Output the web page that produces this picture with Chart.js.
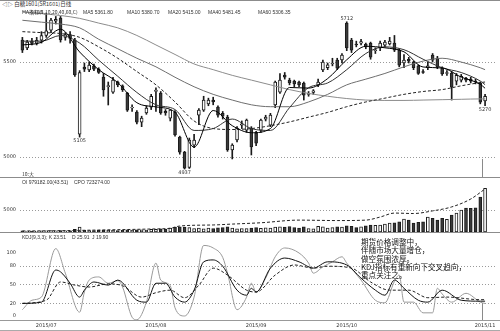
<!DOCTYPE html>
<html>
<head>
<meta charset="utf-8">
<title>白糖1601 日线</title>
<script src="https://cdn.jsdelivr.net/npm/chart.js@4.4.1/dist/chart.umd.min.js"></script>
<style>
  body { margin: 0; background: #fff; }
  #wrap { position: relative; width: 500px; height: 331px; overflow: hidden; font-family: "Liberation Sans", sans-serif; color: #333; }
  canvas { position: absolute; left: 0; }
  .txt { position: absolute; white-space: nowrap; font-size: 5px; line-height: 6px; }
  .rule { position: absolute; left: 0; width: 500px; height: 1px; background: #8c8c8c; }
  .note { position: absolute; left: 361px; top: 238px; font-family: "Noto Sans CJK SC", sans-serif; font-size: 7.6px; line-height: 8.3px; color: #111; white-space: nowrap; }
</style>
</head>
<body>
<div id="wrap">
  <div class="rule" style="top:0"></div>
  <div class="txt" style="left:2px;top:1px;font-size:5.5px;font-family:'Noto Sans CJK SC',sans-serif">◁▷ 白糖1601(SR1601)日线</div>

  <canvas id="priceChart" width="500" height="167" style="top:10px"></canvas>
  <div class="txt" style="left:22px;top:9px;font-family:'Noto Sans CJK SC',sans-serif">MA指标(5,10,20,40,60,C)</div>
  <div class="txt" style="left:83px;top:9px">MA5 5361.80</div>
  <div class="txt" style="left:127px;top:9px">MA10 5380.70</div>
  <div class="txt" style="left:168px;top:9px">MA20 5415.00</div>
  <div class="txt" style="left:208px;top:9px">MA40 5481.45</div>
  <div class="txt" style="left:258px;top:9px">MA60 5306.35</div>
  <div class="txt" style="left:22px;top:171px;font-family:'Noto Sans CJK SC',sans-serif">10:大</div>

  <div class="rule" style="top:177px"></div>
  <canvas id="volChart" width="500" height="55" style="top:177px"></canvas>
  <div class="txt" style="left:22px;top:179px">OI 979182.00(43.51)</div>
  <div class="txt" style="left:74px;top:179px">CPO 723274.00</div>

  <div class="rule" style="top:232px"></div>
  <canvas id="kdjChart" width="500" height="99" style="top:232px"></canvas>
  <div class="txt" style="left:22px;top:234px">KDJ(9,3,3); K 23.51</div>
  <div class="txt" style="left:72px;top:234px">D 25.91</div>
  <div class="txt" style="left:92px;top:234px">J 19.90</div>
  <div class="rule" style="top:320px;background:#999"></div>
  <div class="rule" style="top:330px;background:#aaa"></div>

  <div class="note">期货价格调整中，<br>伴随市场大量增仓，<br>做空氛围浓厚。<br>KDJ指标有重新向下交叉趋向，<br>重点关注之。</div>
</div>

<script>
// K线数据（98个交易日，索引0..97）
const slotCount = 100;
const opens = [5616,5575,5610,5600,5615,5640,5668,5715,5731,5630,5645,5616,5120,5474,5458,5480,5462,5421,5370,5342,
  5395,5375,5337,5258,5237,5184,5232,5262,5345,5337,5240,5205,5237,5105,5026,4945,5063,5221,5247,5280,
  5300,5263,5230,5210,5037,5090,5168,5142,5153,5126,5142,5200,5168,5274,5342,5432,5405,5400,5395,5389,
  5330,5340,5379,5458,5470,5490,5510,5511,5705,5616,5595,5600,5595,5600,5560,5575,5589,5595,5600,5563,
  5495,5515,5500,5480,5450,5470,5537,5521,5468,5440,5442,5400,5405,5415,5410,5400,5389,5295];
const highs = [5630,5615,5625,5630,5660,5758,5730,5740,5740,5655,5660,5625,5455,5495,5500,5490,5470,5440,5395,5420,
  5400,5380,5340,5275,5245,5215,5270,5330,5365,5345,5250,5250,5245,5110,5030,5100,5120,5255,5320,5310,
  5315,5270,5240,5220,5070,5160,5190,5200,5160,5135,5200,5220,5230,5400,5440,5445,5415,5405,5400,5395,
  5345,5355,5410,5510,5495,5520,5520,5545,5712,5625,5610,5620,5600,5605,5575,5610,5615,5630,5640,5570,
  5540,5525,5505,5485,5460,5500,5545,5530,5475,5455,5450,5440,5435,5420,5420,5410,5395,5330];
const lows = [5550,5565,5590,5590,5600,5630,5655,5700,5605,5615,5600,5425,5105,5450,5450,5455,5440,5320,5274,5335,
  5370,5345,5240,5240,5175,5160,5225,5250,5240,5225,5220,5190,5110,5015,4937,4940,5050,5170,5240,5270,
  5275,5210,5200,5030,4990,5080,5150,5130,5011,5060,5130,5190,5160,5260,5335,5410,5380,5370,5370,5300,
  5320,5330,5370,5450,5460,5480,5460,5495,5560,5550,5580,5590,5570,5515,5545,5560,5580,5590,5555,5475,
  5470,5495,5460,5435,5440,5460,5500,5465,5430,5430,5300,5380,5395,5395,5390,5385,5280,5270];
const closes = [5563,5605,5598,5615,5640,5665,5721,5725,5616,5645,5625,5432,5445,5462,5484,5462,5445,5353,5376,5405,
  5380,5355,5247,5262,5184,5205,5258,5320,5352,5232,5232,5247,5116,5026,4942,5089,5089,5247,5300,5300,
  5290,5221,5215,5037,5063,5153,5175,5195,5053,5073,5195,5210,5221,5395,5405,5421,5390,5385,5380,5326,
  5335,5348,5395,5500,5485,5495,5468,5537,5574,5563,5590,5608,5580,5526,5565,5600,5605,5610,5563,5484,
  5510,5505,5470,5440,5445,5480,5510,5474,5437,5445,5368,5430,5425,5405,5400,5395,5289,5320];

// 均线（每4个交易日读一个点）
const maIdx = [0,4,8,12,16,20,24,28,32,36,40,44,48,52,56,60,64,68,72,76,80,84,88,92,96,97];
const ma5  = [5590,5604,5673,5553,5460,5392,5286,5264,5236,5052,5245,5165,5128,5150,5366,5363,5413,5512,5583,5575,5554,5474,5469,5421,5383,5362];
const ma10 = [5610,5610,5640,5600,5510,5425,5340,5275,5250,5140,5150,5200,5150,5140,5260,5365,5390,5460,5545,5580,5565,5515,5470,5445,5400,5381];
const ma20 = [5660,5655,5650,5630,5580,5520,5450,5380,5290,5190,5150,5145,5150,5165,5185,5210,5235,5265,5290,5310,5330,5345,5355,5375,5392,5395];
const ma40 = [5720,5710,5700,5680,5620,5570,5520,5475,5420,5370,5330,5300,5275,5265,5265,5290,5330,5380,5410,5440,5475,5505,5520,5500,5470,5460];
const ma60 = [5765,5755,5745,5730,5705,5680,5640,5590,5540,5490,5460,5430,5405,5380,5355,5335,5320,5308,5300,5298,5298,5300,5302,5304,5306,5306];

// 高低点标注
const markIdx  = [5, 12, 34, 68, 97];
const markKind = ['high', 'low', 'low', 'high', 'low'];
const markSide = ['left', 'below', 'below', 'above', 'below'];

// 成交量 / 持仓量 (百手)
const volumes = [250,200,220,180,240,260,300,260,320,250,280,
  600,1100,400,350,300,380,
  450,420,380,350,400,500,420,520,480,450,600,620,700,650,
  900,1100,1200,1100,1000,800,900,
  700,900,800,950,1000,1200,900,700,800,750,900,1000,850,
  950,900,1100,1200,1100,1250,1000,900,1150,800,700,1300,1200,900,1000,1200,
  1100,1400,1300,1000,1200,1400,1600,1500,1600,1800,2000,2100,2300,
  2950,2700,2000,2200,2300,3400,3100,2700,3100,2900,3860,4300,5000,5450,5400,5500,7950,9900];
const oiIdx  = [0,8,16,27,31,33,40,44,50,58,66,72,75,78,82,86,90,94,97];
const oiVals = [230,300,450,680,850,1360,1600,1800,2100,2700,2600,2700,3400,4300,4200,4800,5700,7500,9792];

// KDJ(9,3,3)
const kIdx  = [0,4,7,8,10,12,13,15,18,20,24,26,28,30,32,34,36,38,40,42,45,47,48,49,52,55,58,61,64,68,71,74,76,78,80,83,85,88,92,96,97];
const kVals = [20,22,73,70,52,30,41,54,49,57,25,22,52,52,30,22,41,86,89,79,41,33,44,38,76,92,86,76,86,81,60,41,33,57,44,25,22,41,25,23.5,23.51];
const dIdx  = [0,5,8,11,14,18,21,25,28,31,34,37,40,43,47,49,53,57,61,64,69,73,77,81,85,89,96,97];
const dVals = [20,25,54,49,46,51,48,30,37,41,29,49,76,65,41,38,65,81,76,79,76,54,41,41,29,30,25.9,25.91];
const jIdx  = [0,2,4,7,9,12,13,14,16,18,20,21,23,24,26,28,29,31,32,34,36,38,40,42,43,45,47,48,49,51,53,55,58,60,61,63,65,67,68,71,74,76,78,79,80,82,84,86,87,88,90,93,96,97];
const jVals = [10,25,30,107,68,6,38,57,62,52,56,46,-2,-6,22,84,57,48,13,0,30,112,108,93,68,10,30,52,38,60,94,108,100,84,68,78,86,94,84,57,25,21,55,65,22,22,5,5,44,35,22,36,22,19.9];

// 坐标刻度
const priceTicks = [5000, 5500];
const volTicks = [5000];
const kdjGrid = [80, 50, 20];
const kdjTicks = [100, 80, 50, 20, 0];
const monthIdx = [5, 28, 49, 68, 97];
const monthLabels = ['2015/07', '2015/08', '2015/09', '2015/10', '2015/11'];

const slots = Array.from({ length: slotCount }, (_, i) => i);
const lastIdx = closes.length - 1;
const isUp = closes.map((c, i) => c >= opens[i]);
const upFill = '#ffffff';
const downFill = '#3a3a3a';
const edge = '#1a1a1a';

function atIndex(idx, vals) {
    const out = new Array(slotCount).fill(null);
    idx.forEach((i, k) => { out[i] = vals[k]; });
    return out;
}

function lineSet(data, color, dash) {
    return {
        type: 'line', data: data, borderColor: color, borderWidth: 1,
        borderDash: dash || [], pointRadius: 0, spanGaps: true,
        cubicInterpolationMode: 'monotone', order: 0
    };
}

// 网格线、刻度文字、标注
function paneDecor(cfg) {
    return {
        id: 'paneDecor',
        beforeDatasetsDraw(chart) {
            const { ctx, chartArea: a, scales: { y } } = chart;
            ctx.save();
            ctx.strokeStyle = '#9a9a9a';
            ctx.lineWidth = 1;
            ctx.setLineDash([1, 2]);
            (cfg.grid || []).forEach(v => {
                const py = Math.round(y.getPixelForValue(v)) + 0.5;
                ctx.beginPath();
                ctx.moveTo(a.left, py);
                ctx.lineTo(a.right, py);
                ctx.stroke();
            });
            ctx.setLineDash([]);
            ctx.font = '5px "DejaVu Sans"';
            ctx.fillStyle = '#333';
            ctx.textAlign = 'right';
            ctx.textBaseline = 'middle';
            (cfg.labels || []).forEach(v => ctx.fillText(String(v), a.left - 4, y.getPixelForValue(v)));
            ctx.restore();
        },
        afterDatasetsDraw(chart) {
            const { ctx, chartArea: a, scales: { x, y } } = chart;
            ctx.save();
            ctx.font = '5px "DejaVu Sans"';
            ctx.fillStyle = '#333';
            (cfg.marks || []).forEach(m => {
                const px = x.getPixelForValue(m.i);
                const py = y.getPixelForValue(m.v);
                if (m.side === 'left') {
                    ctx.textAlign = 'right'; ctx.textBaseline = 'middle';
                    ctx.fillText(String(m.v), px - 3, py);
                } else if (m.side === 'above') {
                    ctx.textAlign = 'center'; ctx.textBaseline = 'bottom';
                    ctx.fillText(String(m.v), px, py - 1);
                } else {
                    ctx.textAlign = 'center'; ctx.textBaseline = 'top';
                    ctx.fillText(String(m.v), px, py + 1);
                }
            });
            if (cfg.cursorFrom !== undefined) {
                const px = Math.round(x.getPixelForValue(lastIdx)) - 2.5;
                ctx.strokeStyle = '#8a8a8a';
                ctx.beginPath();
                ctx.moveTo(px, y.getPixelForValue(cfg.cursorFrom));
                ctx.lineTo(px, a.bottom);
                ctx.stroke();
            }
            if (cfg.months) {
                ctx.textAlign = 'center';
                ctx.textBaseline = 'top';
                cfg.months.forEach((t, k) => ctx.fillText(t, x.getPixelForValue(monthIdx[k]), a.bottom + 3));
            }
            ctx.restore();
        }
    };
}

const baseOptions = (yMin, yMax, pad) => ({
    responsive: false,
    animation: false,
    devicePixelRatio: 1,
    layout: { padding: pad },
    plugins: { legend: { display: false }, tooltip: { enabled: false } },
    scales: {
        x: { display: false, offset: true },
        y: { display: false, min: yMin, max: yMax }
    }
});

// 主图：K线 + 均线
new Chart(document.getElementById('priceChart'), {
    type: 'bar',
    data: {
        labels: slots,
        datasets: [
            lineSet(atIndex(maIdx, ma5), '#000000'),
            lineSet(atIndex(maIdx, ma10), '#333333'),
            lineSet(atIndex(maIdx, ma20), '#222222', [3, 2]),
            lineSet(atIndex(maIdx, ma40), '#6e6e6e'),
            lineSet(atIndex(maIdx, ma60), '#8c8c8c'),
            {
                data: opens.map((o, i) => [o, closes[i]]),
                backgroundColor: isUp.map(u => u ? upFill : downFill),
                borderColor: edge, borderWidth: 1, borderSkipped: false,
                barThickness: 3, grouped: false, order: 1
            },
            {
                data: lows.map((l, i) => [l, highs[i]]),
                backgroundColor: edge, barThickness: 1, grouped: false, order: 2
            }
        ]
    },
    options: baseOptions(4895, 5774, { left: 20, right: 3, top: 0, bottom: 0 }),
    plugins: [paneDecor({
        grid: priceTicks, labels: priceTicks, cursorFrom: 4990,
        marks: markIdx.map((i, k) => ({
            i: i, side: markSide[k],
            v: markKind[k] === 'high' ? highs[i] : lows[i]
        }))
    })]
});

// 成交量 + 持仓量
new Chart(document.getElementById('volChart'), {
    type: 'bar',
    data: {
        labels: slots,
        datasets: [
            lineSet(atIndex(oiIdx, oiVals), '#222222', [3, 2]),
            {
                data: volumes,
                backgroundColor: isUp.map(u => u ? upFill : downFill),
                borderColor: edge, borderWidth: 1, borderSkipped: false,
                barThickness: 3, order: 1
            }
        ]
    },
    options: baseOptions(0, 12500, { left: 20, right: 3, top: 0, bottom: 0 }),
    plugins: [paneDecor({ grid: volTicks, labels: volTicks })]
});

// KDJ
new Chart(document.getElementById('kdjChart'), {
    type: 'line',
    data: {
        labels: slots,
        datasets: [
            lineSet(atIndex(kIdx, kVals), '#111111'),
            lineSet(atIndex(dIdx, dVals), '#222222', [3, 2]),
            lineSet(atIndex(jIdx, jVals), '#9a9a9a')
        ]
    },
    options: baseOptions(-7, 120, { left: 20, right: 3, top: 8.4, bottom: 10.6 }),
    plugins: [paneDecor({ grid: kdjGrid, labels: kdjTicks, cursorFrom: 20, months: monthLabels })]
});
</script>
</body>
</html>
